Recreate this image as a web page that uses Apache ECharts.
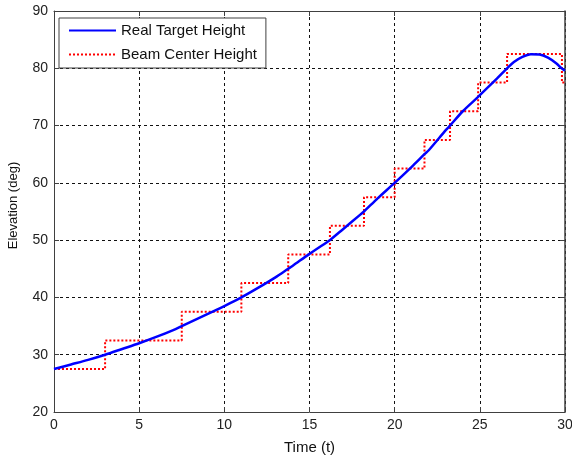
<!DOCTYPE html>
<html>
<head>
<meta charset="utf-8">
<title>Elevation vs Time</title>
<script src="https://cdn.jsdelivr.net/npm/echarts@6/dist/echarts.min.js"></script>
<style>
  html, body { margin: 0; padding: 0; background: #ffffff; }
  #chart { width: 572px; height: 458px; }
</style>
</head>
<body>
<div id="chart"></div>
<script>
// Real target elevation over time
const targetTimes = [0, 1, 2, 3, 4, 5, 6, 7, 7.5, 8, 9, 10, 11, 12, 13, 13.75, 14, 15, 16, 16.2, 17, 18, 18.2, 19, 20, 21, 21.75, 22, 23, 23.25, 24, 24.9, 25, 26, 26.6, 27, 27.5, 28, 28.5, 29, 29.5, 29.8, 30];
const targetHeight = [27.5, 28.3, 29.1, 30, 31, 32, 33.1, 34.3, 35, 35.7, 37.1, 38.5, 40, 41.7, 43.5, 45, 45.5, 47.6, 49.6, 50, 52, 54.5, 55, 57.3, 60, 62.8, 65, 65.7, 69.2, 70, 72.5, 75, 75.3, 78.2, 80, 81.1, 82.0, 82.46, 82.41, 81.87, 80.85, 80, 79.6];

// Beam pointing (held levels, each starting at the given time)
const beamTimes = [0, 3, 7.5, 11, 13.75, 16.2, 18.2, 20, 21.75, 23.25, 24.9, 26.6, 29.82, 30];
const beamHeight = [27.5, 32.5, 37.5, 42.5, 47.5, 52.5, 57.5, 62.5, 67.5, 72.5, 77.5, 82.5, 77.5, 77.5];

const xTicks = [0, 5, 10, 15, 20, 25, 30];
const yTicks = [20, 30, 40, 50, 60, 70, 80, 90];

const FONT = 'Liberation Sans, Arial, Helvetica, sans-serif';
const frameColor = '#404040';
const clear = 'rgba(0,0,0,0)';

const pairs = (xs, ys) => xs.map((x, i) => [x, ys[i]]);

const chart = echarts.init(document.getElementById('chart'), null, { renderer: 'canvas' });

const xBase = {
  type: 'value',
  min: xTicks[0],
  max: xTicks[xTicks.length - 1],
  interval: xTicks[1] - xTicks[0]
};
const yBase = {
  type: 'value',
  min: yTicks[0],
  max: yTicks[yTicks.length - 1],
  interval: yTicks[1] - yTicks[0]
};

chart.setOption({
  animation: false,
  backgroundColor: '#ffffff',
  grid: { left: 54, right: 7, top: 11, bottom: 46, containLabel: false, outerBoundsMode: 'none' },
  legend: {
    orient: 'vertical',
    left: 59,
    top: 18,
    padding: [5, 9, 6, 9],
    itemWidth: 47,
    itemHeight: 14,
    itemGap: 9,
    backgroundColor: '#ffffff',
    borderColor: frameColor,
    borderWidth: 1,
    borderRadius: 0,
    // only the line sample is shown, no marker
    itemStyle: { color: clear, borderColor: clear, borderWidth: 0, opacity: 0 },
    textStyle: { fontFamily: FONT, fontSize: 15, color: '#111' },
    data: ['Real Target Height', 'Beam Center Height']
  },
  xAxis: [
    Object.assign({}, xBase, {
      position: 'bottom',
      name: 'Time (t)',
      nameLocation: 'middle',
      nameGap: 28,
      nameTextStyle: { fontFamily: FONT, fontSize: 15, color: '#111' },
      axisLine: { show: true, onZero: false, lineStyle: { color: frameColor, width: 1 } },
      axisTick: { show: true, inside: true, length: 5, lineStyle: { color: frameColor } },
      axisLabel: { fontFamily: FONT, fontSize: 14, color: '#222', margin: 6 },
      splitLine: { show: true, lineStyle: { color: '#111', type: [3, 3], width: 1 } }
    }),
    Object.assign({}, xBase, {
      position: 'top',
      axisLine: { show: true, onZero: false, lineStyle: { color: frameColor, width: 1 } },
      axisTick: { show: true, inside: true, length: 5, lineStyle: { color: frameColor } },
      axisLabel: { show: false },
      splitLine: { show: false }
    })
  ],
  yAxis: [
    Object.assign({}, yBase, {
      position: 'left',
      name: 'Elevation (deg)',
      nameLocation: 'middle',
      nameGap: 34,
      nameRotate: 90,
      nameTextStyle: { fontFamily: FONT, fontSize: 13, color: '#111', padding: [0, 0, 0, 12] },
      axisLine: { show: true, onZero: false, lineStyle: { color: frameColor, width: 1 } },
      axisTick: { show: true, inside: true, length: 5, lineStyle: { color: frameColor } },
      axisLabel: { fontFamily: FONT, fontSize: 14, color: '#222', margin: 6 },
      splitLine: { show: true, lineStyle: { color: '#111', type: [3, 3], width: 1 } }
    }),
    Object.assign({}, yBase, {
      position: 'right',
      axisLine: { show: true, onZero: false, lineStyle: { color: frameColor, width: 1.5 } },
      axisTick: { show: true, inside: true, length: 5, lineStyle: { color: frameColor } },
      axisLabel: { show: false },
      splitLine: { show: false }
    })
  ],
  series: [
    {
      name: 'Real Target Height',
      type: 'line',
      xAxisIndex: 0,
      yAxisIndex: 0,
      data: pairs(targetTimes, targetHeight),
      smooth: 0.3,
      symbol: 'none',
      showSymbol: false,
      z: 4,
      lineStyle: { color: '#0000ff', width: 2.5 },
      itemStyle: { color: '#0000ff' }
    },
    {
      name: 'Beam Center Height',
      type: 'line',
      xAxisIndex: 0,
      yAxisIndex: 0,
      data: pairs(beamTimes, beamHeight),
      step: 'end',
      symbol: 'none',
      showSymbol: false,
      z: 3,
      lineStyle: { color: '#ff0000', width: 2, type: [2, 2], cap: 'butt' },
      itemStyle: { color: '#ff0000' }
    }
  ]
});
</script>
</body>
</html>
